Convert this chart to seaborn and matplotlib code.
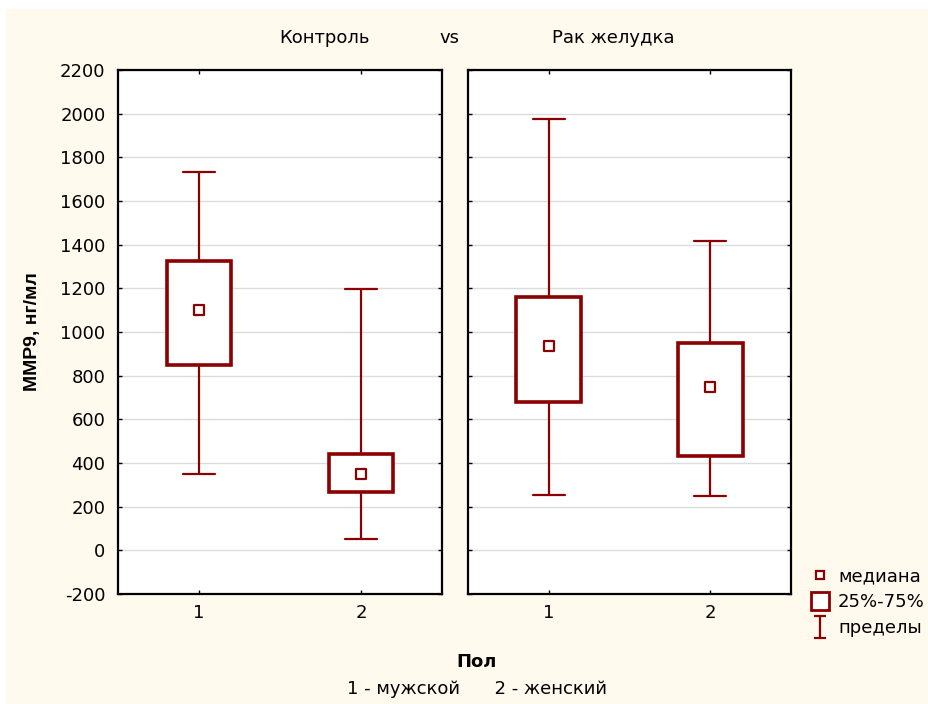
import matplotlib
matplotlib.use("Agg")
import matplotlib.pyplot as plt
import seaborn as sns
import pandas as pd
from matplotlib.lines import Line2D
from matplotlib.path import Path
from matplotlib.patches import Rectangle

# ---- data ----
groups = ["Контроль", "Рак желудка"]
sex_labels = ["1", "2"]
medians = {"Контроль": [1100, 350], "Рак желудка": [935, 750]}
q1 = {"Контроль": [850, 265], "Рак желудка": [680, 430]}
q3 = {"Контроль": [1325, 440], "Рак желудка": [1160, 950]}
lo = {"Контроль": [350, 50], "Рак желудка": [255, 250]}
hi = {"Контроль": [1735, 1195], "Рак желудка": [1975, 1415]}
yticks = list(range(-200, 2201, 200))

RED = "#8B0000"
CREAM = "#FFF9EE"

sns.set_theme(style="white")
plt.rcParams["font.family"] = ["DejaVu Sans"]
plt.rcParams["axes.unicode_minus"] = False
plt.rcParams["text.color"] = "black"
plt.rcParams["axes.labelcolor"] = "black"

fig = plt.figure(figsize=(9.29, 7.04), dpi=100)
fig.patch.set_facecolor("white")
W, H = 929, 704
fig.patches.append(Rectangle((6 / W, 0), 1, 1 - 9 / H, transform=fig.transFigure,
                             facecolor=CREAM, edgecolor="none", zorder=-10))

ax1 = fig.add_axes([118 / W, 1 - 594 / H, (442 - 118) / W, (594 - 70) / H])
ax2 = fig.add_axes([468 / W, 1 - 594 / H, (791 - 468) / W, (594 - 70) / H])

for ax, g in zip([ax1, ax2], groups):
    ax.set_facecolor("white")
    stats = []
    for i in range(len(sex_labels)):
        stats.append(dict(med=medians[g][i], q1=q1[g][i], q3=q3[g][i],
                          whislo=lo[g][i], whishi=hi[g][i], fliers=[]))
    ax.bxp(stats, positions=range(len(sex_labels)), widths=0.4, showfliers=False,
           patch_artist=True,
           boxprops=dict(facecolor="white", edgecolor=RED, linewidth=2.6),
           whiskerprops=dict(color=RED, linewidth=1.6),
           capprops=dict(color=RED, linewidth=1.6),
           medianprops=dict(linewidth=0),
           capwidths=0.2, zorder=3)
    df = pd.DataFrame({"x": range(len(sex_labels)), "y": medians[g]})
    sns.scatterplot(data=df, x="x", y="y", marker="s", s=45, color="white",
                    edgecolor=RED, linewidth=1.6, ax=ax, zorder=5, legend=False)
    ax.set_xlim(-0.5, 1.5)
    ax.set_ylim(-200, 2200)
    ax.set_yticks(yticks)
    ax.set_xticks(range(len(sex_labels)))
    ax.set_xticklabels(sex_labels)
    ax.set_xlabel("")
    ax.set_ylabel("")
    ax.yaxis.grid(True, color="#DCDCDC", linewidth=1)
    ax.xaxis.grid(False)
    ax.set_axisbelow(True)
    for s in ax.spines.values():
        s.set_color("black")
        s.set_linewidth(1.6)
    ax.tick_params(axis="both", which="both", direction="in", length=3, width=1.0,
                   color="black", top=True, right=True, left=True, bottom=True,
                   labelsize=13, labelcolor="black", pad=7)

ax2.tick_params(labelleft=False)
ax1.tick_params(axis="y", pad=9)

ax1.set_ylabel("MMP9, нг/мл", fontsize=14, fontweight="bold", labelpad=14,
               family=["Liberation Sans", "DejaVu Sans"])

tfam = ["DejaVu Sans"]
fig.text(325 / W, 1 - 38 / H, "Контроль", ha="center", va="center", fontsize=13, family=tfam)
fig.text(449 / W, 1 - 38 / H, "vs", ha="center", va="center", fontsize=13, family=tfam)
fig.text(613 / W, 1 - 38 / H, "Рак желудка", ha="center", va="center", fontsize=13, family=tfam)
fig.text(477 / W, 1 - 662 / H, "Пол", ha="center", va="center", fontsize=13,
         fontweight="bold", family=tfam)
fig.text(477 / W, 1 - 689 / H, "1 - мужской      2 - женский", ha="center", va="center",
         fontsize=13, family=tfam)

ipath = Path([(-0.5, 1), (0.5, 1), (0, 1), (0, -1), (-0.5, -1), (0.5, -1)],
             [Path.MOVETO, Path.LINETO, Path.MOVETO, Path.LINETO, Path.MOVETO, Path.LINETO])
handles = [
    Line2D([], [], linestyle="none", marker="s", markersize=6, markerfacecolor="white",
           markeredgecolor=RED, markeredgewidth=1.6),
    Line2D([], [], linestyle="none", marker="s", markersize=13, markerfacecolor="white",
           markeredgecolor=RED, markeredgewidth=2.0),
    Line2D([], [], linestyle="none", marker=ipath, markersize=16, markerfacecolor="none",
           markeredgecolor=RED, markeredgewidth=1.6),
]
fig.legend(handles, ["медиана", "25%-75%", "пределы"], loc="center left",
           bbox_to_anchor=(802 / W, 1 - 602 / H), frameon=False, fontsize=13,
           handlelength=1.0, handletextpad=0.5, labelspacing=0.45, borderpad=0)

fig.savefig("out.png", dpi=100, facecolor=fig.get_facecolor())
